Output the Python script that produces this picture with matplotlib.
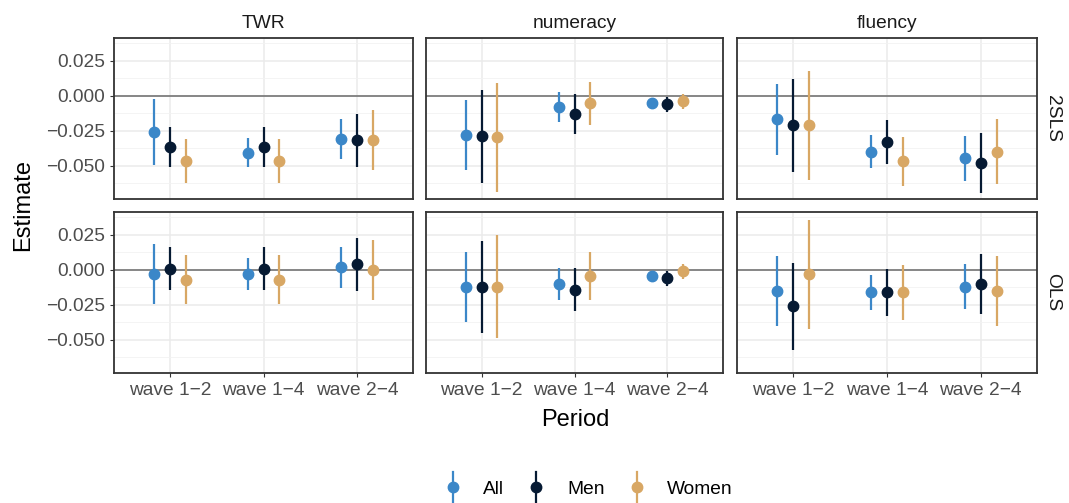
import matplotlib
matplotlib.use("Agg")
import matplotlib.pyplot as plt
from matplotlib.lines import Line2D
from matplotlib.legend_handler import HandlerBase
import numpy as np

# categories
periods = ["wave 1\u22122", "wave 1\u22124", "wave 2\u22124"]
outcomes = ["TWR", "numeracy", "fluency"]
methods = ["2SLS", "OLS"]
groups = ["All", "Men", "Women"]
colors = {"All": "#3b87c8", "Men": "#061a33", "Women": "#d8a764"}

# estimates [method][outcome][group] -> value per period
est = {
    "2SLS": {
        "TWR":      {"All": [-0.0257, -0.0407, -0.0307],
                     "Men": [-0.0367, -0.0367, -0.0317],
                     "Women": [-0.0467, -0.0467, -0.0317]},
        "numeracy": {"All": [-0.0276, -0.0079, -0.0048],
                     "Men": [-0.0288, -0.0131, -0.0060],
                     "Women": [-0.0295, -0.0048, -0.0038]},
        "fluency":  {"All": [-0.0167, -0.0398, -0.0445],
                     "Men": [-0.0207, -0.0329, -0.0476],
                     "Women": [-0.0207, -0.0467, -0.0398]},
    },
    "OLS": {
        "TWR":      {"All": [-0.0031, -0.0031, 0.0021],
                     "Men": [0.0007, 0.0007, 0.0040],
                     "Women": [-0.0069, -0.0069, 0.0000]},
        "numeracy": {"All": [-0.0119, -0.0100, -0.0040],
                     "Men": [-0.0119, -0.0140, -0.0060],
                     "Women": [-0.0119, -0.0040, -0.0010]},
        "fluency":  {"All": [-0.0148, -0.0160, -0.0119],
                     "Men": [-0.0257, -0.0160, -0.0100],
                     "Women": [-0.0031, -0.0160, -0.0148]},
    },
}

# lower / upper confidence limits
lo = {
    "2SLS": {
        "TWR":      {"All": [-0.0490, -0.0510, -0.0448],
                     "Men": [-0.0510, -0.0510, -0.0510],
                     "Women": [-0.0624, -0.0624, -0.0531]},
        "numeracy": {"All": [-0.0529, -0.0186, -0.0065],
                     "Men": [-0.0619, -0.0274, -0.0114],
                     "Women": [-0.0686, -0.0205, -0.0090]},
        "fluency":  {"All": [-0.0421, -0.0512, -0.0605],
                     "Men": [-0.0540, -0.0486, -0.0690],
                     "Women": [-0.0598, -0.0640, -0.0631]},
    },
    "OLS": {
        "TWR":      {"All": [-0.0245, -0.0145, -0.0126],
                     "Men": [-0.0145, -0.0145, -0.0152],
                     "Women": [-0.0245, -0.0245, -0.0214]},
        "numeracy": {"All": [-0.0371, -0.0212, -0.0060],
                     "Men": [-0.0450, -0.0295, -0.0114],
                     "Women": [-0.0488, -0.0212, -0.0064]},
        "fluency":  {"All": [-0.0402, -0.0286, -0.0279],
                     "Men": [-0.0569, -0.0329, -0.0312],
                     "Women": [-0.0419, -0.0355, -0.0402]},
    },
}
hi = {
    "2SLS": {
        "TWR":      {"All": [-0.0024, -0.0300, -0.0167],
                     "Men": [-0.0224, -0.0224, -0.0126],
                     "Women": [-0.0310, -0.0310, -0.0102]},
        "numeracy": {"All": [-0.0026, 0.0026, -0.0030],
                     "Men": [0.0040, 0.0017, -0.0005],
                     "Women": [0.0093, 0.0102, 0.0014]},
        "fluency":  {"All": [0.0086, -0.0281, -0.0288],
                     "Men": [0.0121, -0.0171, -0.0264],
                     "Women": [0.0181, -0.0293, -0.0164]},
    },
    "OLS": {
        "TWR":      {"All": [0.0183, 0.0083, 0.0162],
                     "Men": [0.0162, 0.0162, 0.0229],
                     "Women": [0.0105, 0.0105, 0.0212]},
        "numeracy": {"All": [0.0131, 0.0012, -0.0020],
                     "Men": [0.0210, 0.0017, -0.0007],
                     "Women": [0.0248, 0.0129, 0.0045]},
        "fluency":  {"All": [0.0102, -0.0036, 0.0040],
                     "Men": [0.0052, 0.0010, 0.0112],
                     "Women": [0.0357, 0.0033, 0.0102]},
    },
}


# legend key: vertical line with a point (like ggplot pointrange)
class HandlerPointRange(HandlerBase):
    def create_artists(self, legend, orig_handle, xdescent, ydescent,
                       width, height, fontsize, trans):
        col = orig_handle.get_color()
        xc = width / 2 - xdescent
        yc = height / 2 - ydescent
        vline = Line2D([xc, xc], [yc - 10.8, yc + 10.8], color=col, lw=1.6,
                       transform=trans)
        pt = Line2D([xc], [yc], marker='o', ms=7.5, color=col, ls='none',
                    transform=trans)
        return [vline, pt]


plt.rcParams['font.family'] = ['Liberation Sans', 'DejaVu Sans']

fig = plt.figure(figsize=(10.69, 5.03), dpi=100)

W, H = 1069, 503
col_x = [114, 426, 737]
col_w = [299, 297, 300]
row_y = [38, 212]
row_h = 161
dodge = [-0.17, 0.0, 0.17]

for r, m in enumerate(methods):
    for c, o in enumerate(outcomes):
        ax = fig.add_axes([col_x[c] / W, 1 - (row_y[r] + row_h) / H, col_w[c] / W, row_h / H])
        ax.set_xlim(0.4, 3.6)
        ax.set_ylim(-0.0736, 0.0414)
        ax.set_yticks([-0.05, -0.025, 0.0, 0.025])
        ax.set_yticks([-0.0625, -0.0375, -0.0125, 0.0125, 0.0375], minor=True)
        ax.set_xticks([1, 2, 3])
        ax.grid(True, which='major', color='#ebebeb', lw=1.1, zorder=0)
        ax.grid(True, which='minor', axis='y', color='#f2f2f2', lw=0.6, zorder=0)
        ax.set_axisbelow(True)
        ax.axhline(0, color='#6b6b6b', lw=1.1, zorder=1)
        for g, d in zip(groups, dodge):
            x = np.arange(1, 4) + d
            y = np.array(est[m][o][g])
            yl = y - np.array(lo[m][o][g])
            yh = np.array(hi[m][o][g]) - y
            ax.errorbar(x, y, yerr=[yl, yh], fmt='o', color=colors[g], ms=7.5,
                        elinewidth=1.6, capsize=0, zorder=3)
        for s in ax.spines.values():
            s.set_color('#333333')
            s.set_linewidth(1.3)
        ax.tick_params(which='minor', length=0)
        ax.tick_params(which='major', length=3, color='#333333', labelcolor='#4d4d4d',
                       labelsize=13.8, width=0.8)
        if c == 0:
            ax.set_yticklabels(["\u22120.050", "\u22120.025", "0.000", "0.025"])
        else:
            ax.set_yticklabels([])
            ax.tick_params(axis='y', length=0)
        if r == 1:
            ax.set_xticklabels(periods)
        else:
            ax.set_xticklabels([])
            ax.tick_params(axis='x', length=0)
        if r == 0:
            ax.set_title(o, fontsize=13.8, color='#1a1a1a', pad=7)
        if c == 2:
            ax.text(1.053, 0.5, m, transform=ax.transAxes, rotation=-90,
                    ha='center', va='center', fontsize=13.8, color='#1a1a1a')

fig.text(23 / W, 1 - 205 / H, "Estimate", rotation=90, ha='center', va='center', fontsize=17)
fig.text(575 / W, 1 - 420 / H, "Period", ha='center', va='center', fontsize=17)

proxies = [Line2D([], [], color=colors[g]) for g in groups]
fig.legend(proxies, groups, loc='center', ncol=3,
           bbox_to_anchor=(589 / W, 1 - 489 / H), frameon=False, fontsize=13.8,
           handlelength=0.8, columnspacing=1.27, handletextpad=1.2,
           handler_map={Line2D: HandlerPointRange()})

fig.savefig("out.png", dpi=100)
